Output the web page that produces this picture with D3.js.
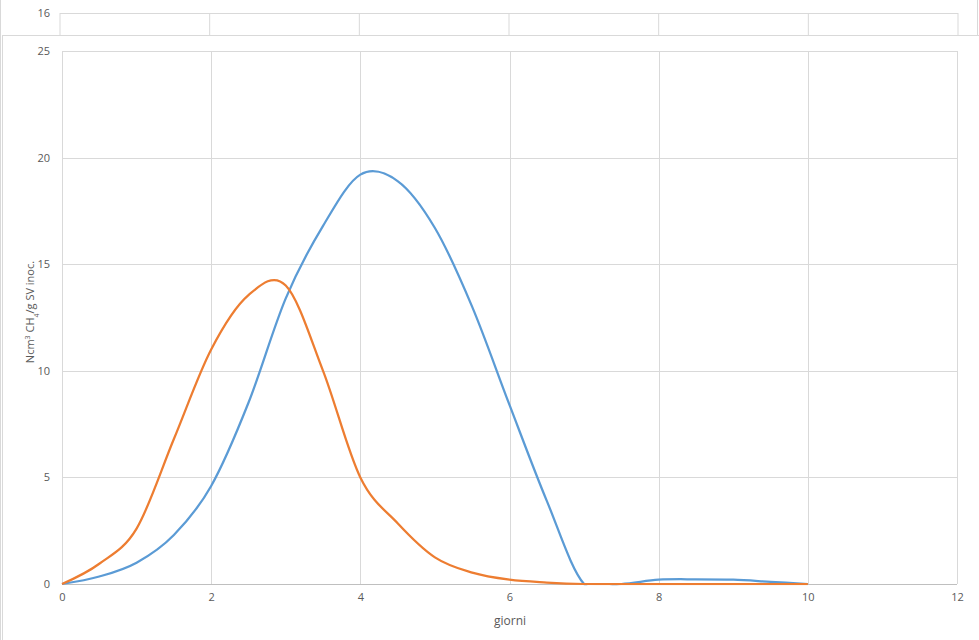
<!DOCTYPE html>
<html><head><meta charset="utf-8">
<script src="https://cdn.jsdelivr.net/npm/d3@7"></script>
<style>
body{margin:0;background:#fff;}
svg{display:block;}
text{font-family:"Open Sans","Liberation Sans",sans-serif;fill:#595959;}
</style></head>
<body>
<svg id="c" width="979" height="640"></svg>
<script>
// ---- data ----
const xTicks = [0, 2, 4, 6, 8, 10, 12];
const yTicks = [0, 5, 10, 15, 20, 25];
const backYTicks = [16];
const days = [0, 0.5, 1, 1.5, 2, 2.5, 3, 3.5, 4, 4.5, 5, 5.5, 6, 6.5, 7, 7.5, 8, 8.5, 9, 9.5, 10];
const blueY = [0, 0.35, 1.0, 2.3, 4.6, 8.5, 13.4, 16.8, 19.2, 18.9, 16.7, 13.0, 8.4, 3.9, 0, 0, 0.2, 0.22, 0.2, 0.1, 0];
const orangeY = [0, 0.95, 2.6, 6.8, 11, 13.55, 14.0, 10.0, 5.0, 2.85, 1.25, 0.53, 0.2, 0.07, 0, 0, 0, 0, 0, 0, 0];
const xTitle = "giorni";

// ---- drawing ----
const svg = d3.select("#c");
const grid = "#d9d9d9";

// background chart (partially hidden)
svg.append("rect").attr("x",0.5).attr("y",-10).attr("width",977).attr("height",700)
  .attr("fill","#fff").attr("stroke",grid);
const bx = d3.scaleLinear().domain([0,12]).range([60,958]);
const by = d3.scaleLinear().domain([0,16]).range([300,13]);
const bg = svg.append("g");
bg.selectAll("line.v").data(xTicks).join("line")
  .attr("x1",d=>bx(d)).attr("x2",d=>bx(d)).attr("y1",by(16)).attr("y2",40)
  .attr("stroke",grid);
bg.selectAll("line.h").data(backYTicks).join("line")
  .attr("x1",bx(0)).attr("x2",bx(12)).attr("y1",d=>by(d)+0.5).attr("y2",d=>by(d)+0.5)
  .attr("stroke",grid);
bg.selectAll("text").data(backYTicks).join("text")
  .attr("x",bx(0)-10).attr("y",d=>by(d)).attr("dy","0.35em")
  .attr("text-anchor","end").attr("font-size",11).text(d=>d);

// main chart area
svg.append("rect").attr("x",2.5).attr("y",35.5).attr("width",990).attr("height",700)
  .attr("fill","#fff").attr("stroke",grid);

const x = d3.scaleLinear().domain([0,12]).range([62,957]);
const y = d3.scaleLinear().domain([0,25]).range([584,51]);

const g = svg.append("g");
g.selectAll("line.gy").data(yTicks).join("line").attr("class","gy")
  .attr("x1",x(0)).attr("x2",x(12))
  .attr("y1",d=>Math.round(y(d))+0.5).attr("y2",d=>Math.round(y(d))+0.5)
  .attr("stroke",d=>d===0?"#bfbfbf":grid);
g.selectAll("line.gx").data(xTicks).join("line").attr("class","gx")
  .attr("x1",d=>Math.round(x(d))+0.5).attr("x2",d=>Math.round(x(d))+0.5)
  .attr("y1",y(25)).attr("y2",y(0))
  .attr("stroke",grid);

const xAxis = d3.axisBottom(x).tickValues(xTicks).tickSize(0).tickPadding(9);
const gx = svg.append("g").attr("transform",`translate(0,${y(0)})`).call(xAxis);
gx.select(".domain").remove();
gx.selectAll("text").attr("font-size",11).attr("fill","#595959")
  .style("font-family",'"Open Sans","Liberation Sans",sans-serif');

const yAxis = d3.axisLeft(y).tickValues(yTicks).tickSize(0).tickPadding(12);
const gy = svg.append("g").attr("transform",`translate(${x(0)},0)`).call(yAxis);
gy.select(".domain").remove();
gy.selectAll("text").attr("font-size",11).attr("fill","#595959")
  .style("font-family",'"Open Sans","Liberation Sans",sans-serif');

svg.append("text").attr("x",510).attr("y",625).attr("text-anchor","middle")
  .attr("font-size",12).text(xTitle);
const yt = svg.append("text").attr("transform","translate(34,312) rotate(-90)")
  .attr("text-anchor","middle").attr("font-size",11);
yt.append("tspan").text("Ncm");
yt.append("tspan").attr("baseline-shift","super").attr("font-size",7).text("3");
yt.append("tspan").text(" CH");
yt.append("tspan").attr("baseline-shift","sub").attr("font-size",7).text("4");
yt.append("tspan").text("/g SV inoc.");

// clip so smoothing never dips under the zero line
svg.append("clipPath").attr("id","clip").append("rect")
  .attr("x",x(0)-3).attr("y",y(25)-3).attr("width",x(12)-x(0)+6).attr("height",y(0)-y(25)+4.2);

const line = d3.line().x(d=>x(d[0])).y(d=>y(d[1])).curve(d3.curveCardinal.tension(0));
const blue = days.map((v,i)=>[v,blueY[i]]);
const orange = days.map((v,i)=>[v,orangeY[i]]);
const lines = svg.append("g").attr("clip-path","url(#clip)");
lines.append("path").datum(blue).attr("d",line).attr("fill","none")
  .attr("stroke","#5b9bd5").attr("stroke-width",2.25).attr("stroke-linejoin","round");
lines.append("path").datum(orange).attr("d",line).attr("fill","none")
  .attr("stroke","#ed7d31").attr("stroke-width",2.25).attr("stroke-linejoin","round");
</script>
</body></html>
